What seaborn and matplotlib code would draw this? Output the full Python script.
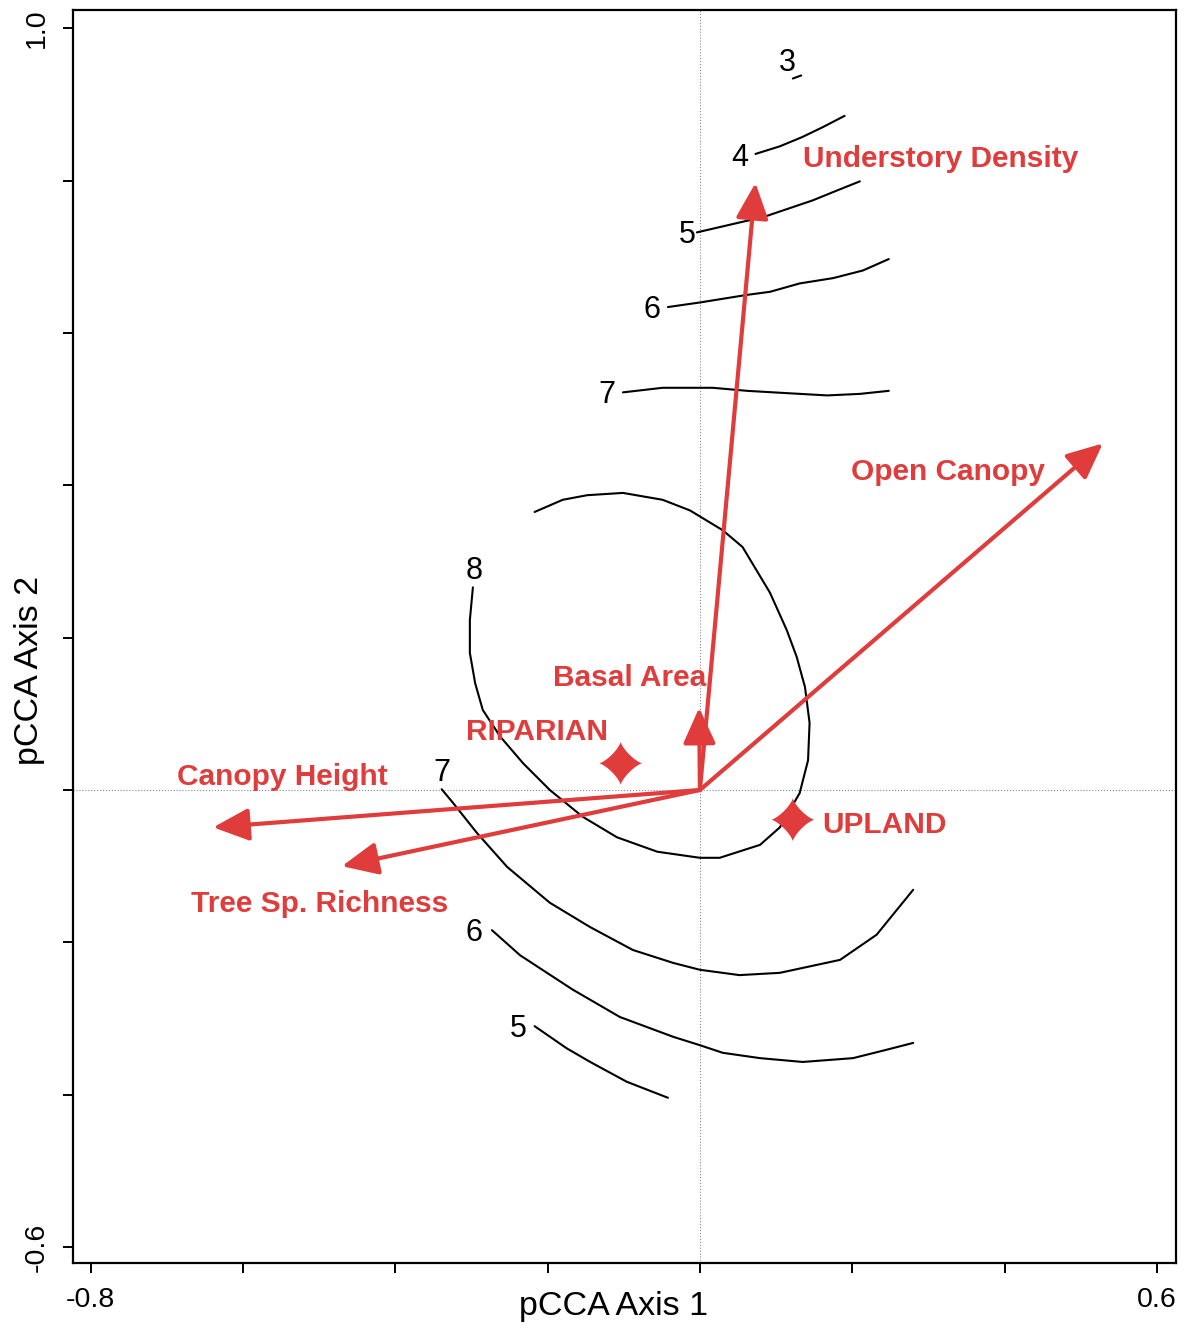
import numpy as np
import pandas as pd
import seaborn as sns
import matplotlib.pyplot as plt
from matplotlib.path import Path

RED = "#E03C3C"

# environmental vectors (arrow tips)
arrow_names = ["Understory Density", "Open Canopy", "Basal Area", "Canopy Height", "Tree Sp. Richness"]
arrow_x = [0.073, 0.529, -0.001, -0.639, -0.470]
arrow_y = [0.797, 0.455, 0.108, -0.049, -0.100]

# label anchors (left edge, vertical centre)
label_x = [0.136, 0.199, -0.193, -0.686, -0.668]
label_y = [0.828, 0.417, 0.147, 0.017, -0.149]

# habitat centroids
site_names = ["RIPARIAN", "UPLAND"]
site_x = [-0.104, 0.122]
site_y = [0.035, -0.039]
site_label_x = [-0.307, 0.161]
site_label_y = [0.076, -0.046]

# isolines
iso_3 = ([0.122, 0.133], [0.934, 0.938])
iso_4 = ([0.073, 0.105, 0.134, 0.161, 0.190],
         [0.835, 0.845, 0.857, 0.870, 0.885])
iso_5a = ([-0.004, 0.052, 0.083, 0.148, 0.180, 0.210],
          [0.732, 0.745, 0.752, 0.774, 0.787, 0.799])
iso_6a = ([-0.042, 0.000, 0.062, 0.092, 0.131, 0.175, 0.214, 0.248],
          [0.634, 0.640, 0.650, 0.654, 0.665, 0.672, 0.682, 0.697])
iso_7a = ([-0.101, -0.049, 0.017, 0.062, 0.114, 0.167, 0.210, 0.248],
          [0.522, 0.528, 0.528, 0.524, 0.521, 0.518, 0.520, 0.524])
iso_8 = ([-0.298, -0.302, -0.302, -0.295, -0.285, -0.262, -0.232, -0.197, -0.154, -0.109,
          -0.056, 0.000, 0.026, 0.079, 0.105, 0.131, 0.142, 0.144, 0.138, 0.127,
          0.114, 0.092, 0.056, 0.030, -0.013, -0.049, -0.101, -0.148, -0.180, -0.217],
         [0.266, 0.223, 0.180, 0.140, 0.105, 0.070, 0.035, 0.000, -0.035, -0.062,
          -0.081, -0.089, -0.089, -0.072, -0.049, -0.004, 0.039, 0.088, 0.135, 0.175,
          0.210, 0.259, 0.319, 0.341, 0.367, 0.381, 0.390, 0.387, 0.381, 0.365])
iso_7b = ([-0.339, -0.324, -0.293, -0.253, -0.197, -0.144, -0.088, -0.035, 0.000, 0.052,
           0.105, 0.184, 0.232, 0.280],
          [0.001, -0.017, -0.056, -0.101, -0.148, -0.180, -0.210, -0.227, -0.236, -0.243,
           -0.240, -0.223, -0.190, -0.131])
iso_6b = ([-0.273, -0.236, -0.167, -0.105, -0.035, 0.000, 0.030, 0.079, 0.135, 0.201, 0.245, 0.280],
          [-0.184, -0.217, -0.262, -0.298, -0.324, -0.335, -0.345, -0.352, -0.357, -0.352, -0.341, -0.332])
iso_5b = ([-0.217, -0.175, -0.144, -0.096, -0.042],
          [-0.310, -0.339, -0.357, -0.383, -0.404])

isolines = [iso_3, iso_4, iso_5a, iso_6a, iso_7a, iso_8, iso_7b, iso_6b, iso_5b]

# isoline value labels
iso_text = ["3", "4", "5", "6", "7", "8", "7", "6", "5"]
iso_text_x = [0.115, 0.052, -0.016, -0.063, -0.122, -0.297, -0.339, -0.297, -0.239]
iso_text_y = [0.954, 0.830, 0.729, 0.630, 0.518, 0.288, 0.022, -0.188, -0.314]


def star_marker(p=2.6):
    t = np.linspace(0, 2 * np.pi, 200)
    c, s = np.cos(t), np.sin(t)
    x = np.sign(c) * np.abs(c) ** p
    y = np.sign(s) * np.abs(s) ** p
    return Path(np.column_stack([x, y]), closed=True)


def main():
    sns.set_theme(style="ticks")
    plt.rcParams["font.family"] = ["Liberation Sans", "DejaVu Sans"]

    fig = plt.figure(figsize=(11.87, 13.28), dpi=100)
    ax = fig.add_axes([0.0615, 0.0489, 0.9292, 0.9436])

    ax.axhline(0, color="#888888", lw=0.8, ls=":", zorder=0)
    ax.axvline(0, color="#888888", lw=0.8, ls=":", zorder=0)

    for xs, ys in isolines:
        df = pd.DataFrame({"x": xs, "y": ys})
        sns.lineplot(data=df, x="x", y="y", ax=ax, sort=False, estimator=None,
                     color="black", linewidth=1.5)

    for t, x, y in zip(iso_text, iso_text_x, iso_text_y):
        ax.text(x, y, t, fontsize=22, ha="center", va="center", color="black")

    for name, x, y, lx, ly in zip(arrow_names, arrow_x, arrow_y, label_x, label_y):
        ax.annotate("", xy=(x, y), xytext=(0, 0),
                    arrowprops=dict(arrowstyle="-|>,head_length=1.1,head_width=0.5",
                                    mutation_scale=20, color=RED, lw=3,
                                    shrinkA=0, shrinkB=0))
        ax.text(lx, ly, name, fontsize=21.5, fontweight="bold", color=RED,
                ha="left", va="center")

    sites = pd.DataFrame({"x": site_x, "y": site_y})
    sns.scatterplot(data=sites, x="x", y="y", ax=ax, marker=star_marker(),
                    s=31 ** 2, color=RED, edgecolor="none", zorder=5)
    for name, lx, ly in zip(site_names, site_label_x, site_label_y):
        ax.text(lx, ly, name, fontsize=21.5, fontweight="bold", color=RED,
                ha="left", va="center")

    ax.set_xlim(-0.823, 0.625)
    ax.set_ylim(-0.621, 1.024)
    xt = np.round(np.arange(-0.8, 0.61, 0.2), 1)
    yt = np.round(np.arange(-0.6, 1.01, 0.2), 1)
    ax.set_xticks(xt)
    ax.set_xticklabels(["-0.8"] + [""] * (len(xt) - 2) + ["0.6"])
    ax.set_yticks(yt)
    ax.set_yticklabels(["-0.6"] + [""] * (len(yt) - 2) + ["1.0"],
                       rotation=90, va="center")
    ax.tick_params(direction="out", length=7, width=1.4, labelsize=20.5,
                   color="black", labelcolor="black", pad=10)

    ax.set_xlabel("pCCA Axis 1", fontsize=24.5, color="black")
    ax.set_ylabel("pCCA Axis 2", fontsize=24.5, color="black")
    ax.xaxis.set_label_coords(0.49, -0.022)
    ax.yaxis.set_label_coords(-0.025, 0.473)

    for sp in ax.spines.values():
        sp.set_visible(True)
        sp.set_color("black")
        sp.set_linewidth(1.6)

    fig.savefig("out.png", dpi=100)


if __name__ == "__main__":
    main()
